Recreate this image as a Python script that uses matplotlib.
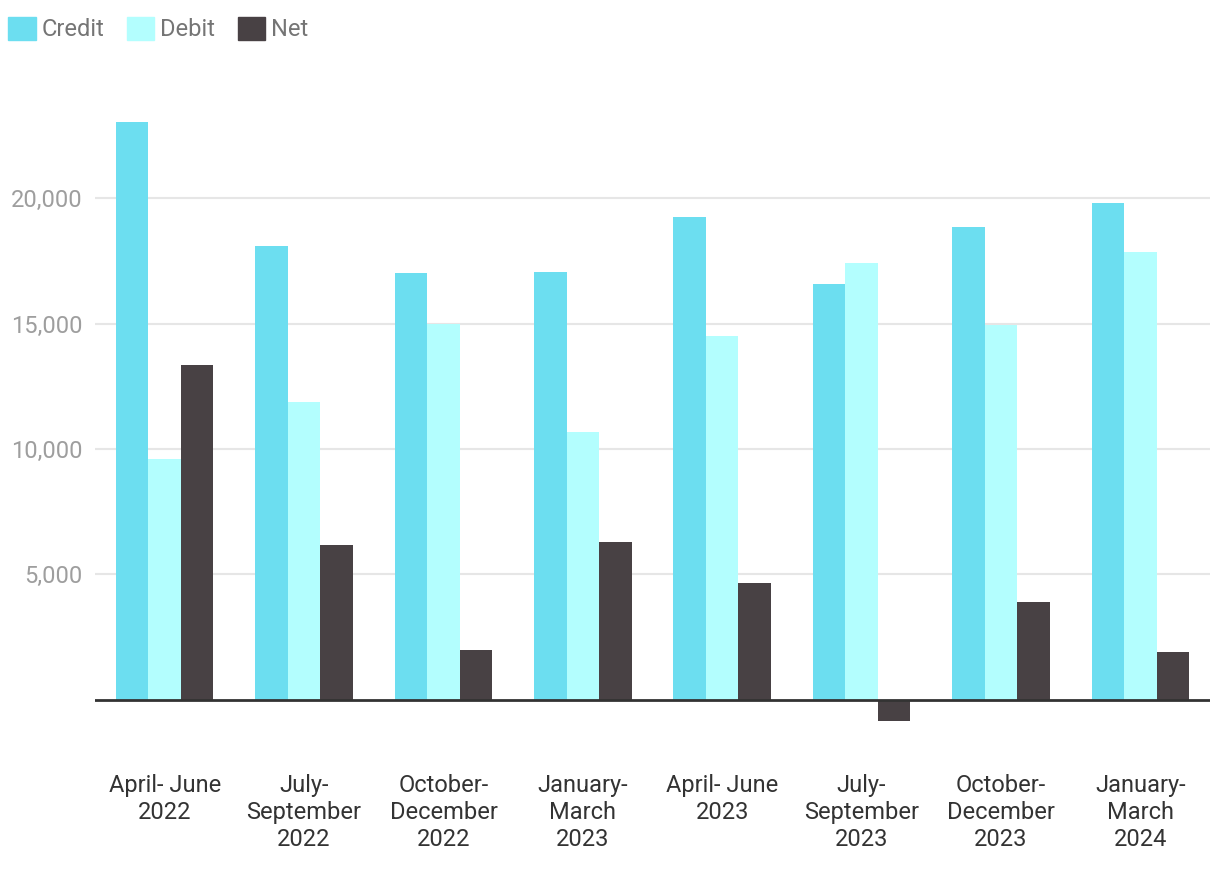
import numpy as np
import matplotlib.pyplot as plt
from matplotlib.patches import Patch
from matplotlib.ticker import FuncFormatter

plt.rcParams['font.family'] = ['Roboto', 'DejaVu Sans']

quarters = ["April- June\n2022", "July-\nSeptember\n2022", "October-\nDecember\n2022",
            "January-\nMarch\n2023", "April- June\n2023", "July-\nSeptember\n2023",
            "October-\nDecember\n2023", "January-\nMarch\n2024"]
credit = [23030, 18090, 17010, 17050, 19240, 16570, 18840, 19800]
debit = [9600, 11870, 14980, 10680, 14500, 17410, 14940, 17850]
net = [13350, 6180, 1990, 6300, 4660, -840, 3900, 1910]

series = ["Credit", "Debit", "Net"]
colors = ["#6cdef0", "#b3fefe", "#484144"]

fig = plt.figure(figsize=(12.2, 8.72), dpi=100)
ax = fig.add_axes([95 / 1220, 1 - 750 / 872, 1115 / 1220, 652 / 872])

x = np.arange(len(quarters))
w = 0.233
for i, (vals, c) in enumerate(zip([credit, debit, net], colors)):
    ax.bar(x + (i - 1) * w, vals, width=w, color=c, zorder=2)

ax.set_xlim(-0.5, len(quarters) - 0.5)
ax.set_ylim(-2000, 24000)
ax.set_yticks([5000, 10000, 15000, 20000])
ax.yaxis.set_major_formatter(FuncFormatter(lambda v, p: f"{v:,.0f}"))
ax.grid(axis='y', color='#e6e6e6', linewidth=1.5, zorder=0)
ax.axhline(0, color='#333333', linewidth=2, zorder=3)

for s in ax.spines.values():
    s.set_visible(False)
ax.tick_params(axis='y', length=0, pad=9, labelsize=17, labelcolor='#9e9e9e')
ax.tick_params(axis='x', length=0, pad=17, labelsize=17, labelcolor='#333333')
ax.set_xticks(x)
ax.set_xticklabels(quarters, linespacing=1.22)

handles = [Patch(color=c, label=s) for s, c in zip(series, colors)]
fig.legend(handles=handles, loc='upper left', bbox_to_anchor=(-0.007, 1.0), ncol=3,
           frameon=False, fontsize=17, labelcolor='#757575', handlelength=1.17,
           handleheight=1.17, handletextpad=0.25, columnspacing=0.95,
           borderaxespad=0.3)

fig.savefig("out.png", dpi=100)
